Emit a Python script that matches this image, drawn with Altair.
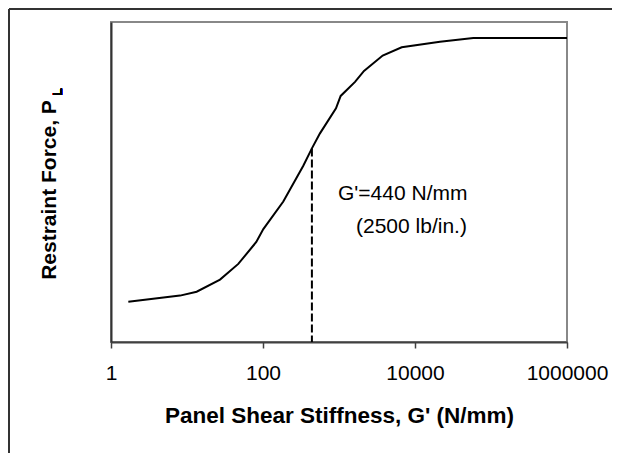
import altair as alt
import pandas as pd

# Curve values (relative restraint force vs panel shear stiffness)
stiffness = [1.69, 8.1, 13.4, 27.2, 47.3, 81.6, 101, 185, 339, 440, 562, 913,
             1052, 1625, 2133, 3758, 6683, 21300, 58500, 1000000]
force = [0.126, 0.145, 0.157, 0.195, 0.244, 0.3125, 0.353, 0.439, 0.551, 0.605,
         0.652, 0.730, 0.769, 0.813, 0.847, 0.895, 0.921, 0.938, 0.95, 0.95]

tick_values = [1, 100, 10000, 1000000]

marker_x = [440]
marker_top = [0.605]
marker_bottom = [0.0]

ann_text = ["G'=440 N/mm", "(2500 lb/in.)"]
ann_x = [970, 1674]
ann_y = [0.444, 0.3416]

FONT = "Liberation Sans"

df = pd.DataFrame({"G": stiffness, "P": force})
mk = pd.DataFrame({"G": marker_x, "top": marker_top, "bottom": marker_bottom})
ann = pd.DataFrame({"G": ann_x, "P": ann_y, "t": ann_text})

xscale = alt.Scale(type="log", domain=[1, 1000000], nice=False)
yscale = alt.Scale(domain=[0, 1], nice=False)

line = alt.Chart(df).mark_line(color="black", strokeWidth=2).encode(
    x=alt.X("G:Q", scale=xscale,
            axis=alt.Axis(values=tick_values, format="d", grid=False,
                          domainColor="#404040", domainWidth=2,
                          tickColor="#404040", tickWidth=1.5, tickSize=6,
                          labelFont=FONT, labelFontSize=21, labelColor="black",
                          labelPadding=14, labelFlush=False, labelOverlap=False,
                          labelBound=False,
                          title="Panel Shear Stiffness, G' (N/mm)",
                          titleFont=FONT, titleFontSize=22.5, titleFontWeight="bold",
                          titleColor="black", titleY=80, titleBaseline="alphabetic")),
    y=alt.Y("P:Q", scale=yscale,
            axis=alt.Axis(labels=False, ticks=False, grid=False,
                          domainColor="#333333", domainWidth=2,
                          title="Restraint Force, P",
                          titleFont=FONT, titleFontSize=21, titleFontWeight="bold",
                          titleColor="black", titleAngle=270, titleX=-56,
                          titleY=167.5, titleAlign="center",
                          titleBaseline="alphabetic")),
)

dash = alt.Chart(mk).mark_rule(color="black", strokeWidth=2, strokeDash=[8, 3]).encode(
    x=alt.X("G:Q", scale=xscale),
    y=alt.Y("top:Q", scale=yscale),
    y2="bottom:Q",
)

labels = alt.Chart(ann).mark_text(align="left", baseline="alphabetic", font=FONT,
                                  fontSize=21, color="black").encode(
    x=alt.X("G:Q", scale=xscale),
    y=alt.Y("P:Q", scale=yscale),
    text="t:N",
)

sub = alt.Chart(df).mark_text(angle=270, align="center", baseline="alphabetic",
                              font=FONT, fontSize=12, fontWeight="bold",
                              color="black").encode(
    x=alt.value(-49), y=alt.value(70), text=alt.value("L")
)

frame_left = alt.Chart(df).mark_rule(color="#333333", strokeWidth=1.5).encode(
    x=alt.value(-102), y=alt.value(-13), y2=alt.value(460)
)
frame_top = alt.Chart(df).mark_rule(color="#333333", strokeWidth=1.5).encode(
    x=alt.value(-102), x2=alt.value(520), y=alt.value(-13)
)

chart = alt.layer(line, dash, labels, sub, frame_left, frame_top).properties(
    width=456, height=320,
    padding={"left": 103, "top": 14, "right": 45, "bottom": 111},
    autosize=alt.AutoSizeParams(type="none"),
    background="white",
).configure_view(stroke="#888888", strokeWidth=2)

chart.save("out.html", embed_options={"renderer": "svg", "actions": False})
